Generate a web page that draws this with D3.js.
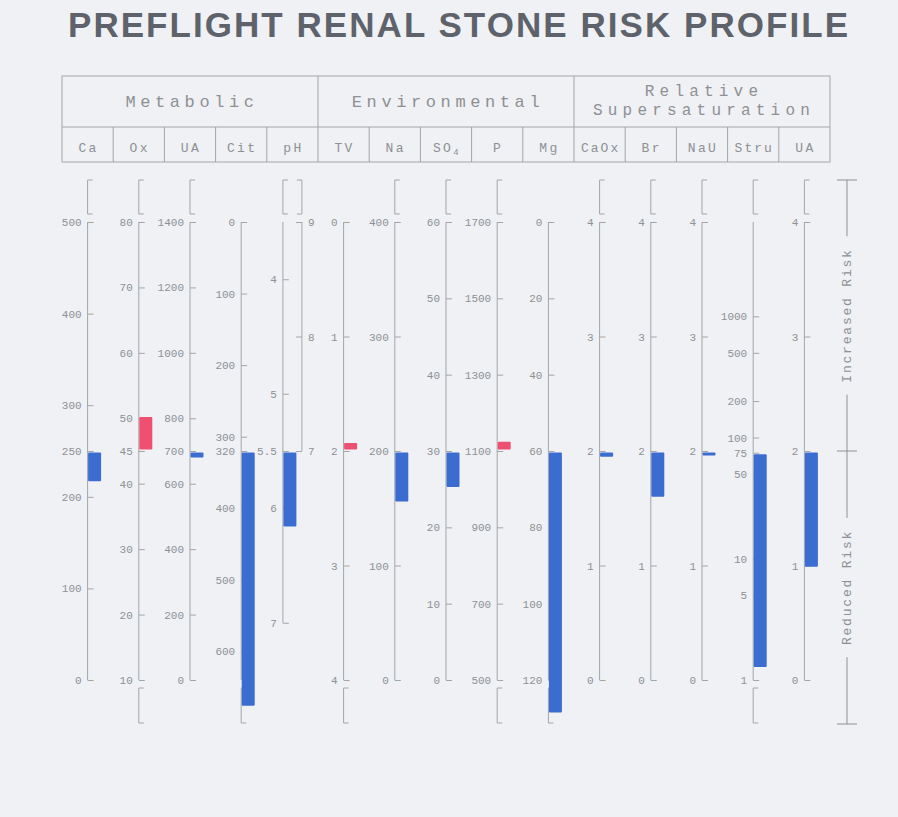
<!DOCTYPE html>
<html>
<head>
<meta charset="utf-8">
<script src="https://cdn.jsdelivr.net/npm/d3@7"></script>
<style>
  body { margin: 0; background: #eff1f5; }
  svg { display: block; }
  .tick text { font-family: "Liberation Mono", monospace; font-size: 11px; fill: #8e9094; }
  .tick line { stroke: #a3a5a9; }
</style>
</head>
<body>
<div id="chart"></div>
<script>
// DATA
const title = "PREFLIGHT RENAL STONE RISK PROFILE";
const groupLabels = [["Metabolic"], ["Environmental"], ["Relative", "Supersaturation"]];
const groupSizes = [5, 5, 5];
const columnLabels = ["Ca", "Ox", "UA", "Cit", "pH", "TV", "Na", "SO4", "P", "Mg", "CaOx", "Br", "NaU", "Stru", "UA"];

// value at top of axis / bottom of axis (some scales run downward)
const axisTop    = [500, 80, 1400, 0,   3.5, 0, 400, 60, 1700, 0,   4, 4, 4, 6000, 4];
const axisBottom = [0,   10, 0,    640, 7.5, 4, 0,   0,  500,  120, 0, 0, 0, 1,    0];
const lineEnd    = [0,   10, 0,    640, 7,   4, 0,   0,  500,  120, 0, 0, 0, 1,    0];
const midValues  = [250, 45, 700,  320, 5.5, 2, 200, 30, 1100, 60,  2, 2, 2, 75,   2];
const barValues  = [217, 50.2, 680, 676, 6.16, 1.93, 156, 25.3, 1124, 128.5, 1.95, 1.6, 1.96, 1.28, 0.99];
const logAxis    = [0, 0, 0, 0, 0, 0, 0, 0, 0, 0, 0, 0, 0, 1, 0];
const topBracket    = [1, 1, 1, 0, 1, 0, 1, 1, 1, 0, 1, 1, 1, 1, 1];
const bottomBracket = [0, 1, 0, 1, 0, 1, 0, 0, 1, 1, 0, 0, 0, 1, 0];
const tickValues = [
    [0, 100, 200, 250, 300, 400, 500],
    [10, 20, 30, 40, 45, 50, 60, 70, 80],
    [0, 200, 400, 600, 700, 800, 1000, 1200, 1400],
    [0, 100, 200, 300, 320, 400, 500, 600],
    [4, 5, 5.5, 6, 7],
    [0, 1, 2, 3, 4],
    [0, 100, 200, 300, 400],
    [0, 10, 20, 30, 40, 50, 60],
    [500, 700, 900, 1100, 1300, 1500, 1700],
    [0, 20, 40, 60, 80, 100, 120],
    [0, 1, 2, 3, 4],
    [0, 1, 2, 3, 4],
    [0, 1, 2, 3, 4],
    [1, 5, 10, 50, 75, 100, 200, 500, 1000],
    [0, 1, 2, 3, 4]
];
// second pH scale (right hand line, upper half only)
const phRightDomain = [9, 7];
const phRightTicks = [7, 8, 9];
const riskLabels = ["Increased Risk", "Reduced Risk"];

// LAYOUT
const width = 898, height = 817;
const yTop = 222, yBottom = 680;
const yMid = (yTop + yBottom) / 2;
const headTop = 76, headMid = 127, headBottom = 162;
const lineColor = "#a3a5a9";
const textColor = "#8e9094";
const blue = "#3b6dd0";
const red = "#ef5072";

const svg = d3.select("#chart").append("svg")
    .attr("width", width)
    .attr("height", height);

svg.append("rect").attr("width", width).attr("height", height).attr("fill", "#eff1f5");

// title
svg.append("text")
    .attr("x", 458).attr("y", 37)
    .attr("text-anchor", "middle")
    .attr("textLength", 780)
    .attr("lengthAdjust", "spacing")
    .style("font-family", "'Liberation Sans', Arial, sans-serif")
    .style("font-weight", "bold")
    .style("font-size", "35px")
    .attr("fill", "#5e636b")
    .text(title);

const x = d3.scaleBand()
    .domain(d3.range(columnLabels.length))
    .range([62, 830]);

// HEADER TABLE
const head = svg.append("g").attr("stroke", lineColor).attr("fill", "none");
head.append("rect")
    .attr("x", x.range()[0]).attr("y", headTop)
    .attr("width", x.range()[1] - x.range()[0]).attr("height", headBottom - headTop);
head.append("line")
    .attr("x1", x.range()[0]).attr("x2", x.range()[1])
    .attr("y1", headMid).attr("y2", headMid);

let start = 0;
const groupBounds = groupSizes.map(n => {
    const b = [start, start + n];
    start += n;
    return b;
});

// column dividers
head.selectAll(".coldiv")
    .data(d3.range(1, columnLabels.length))
    .join("line")
    .attr("x1", i => x(i)).attr("x2", i => x(i))
    .attr("y1", i => groupBounds.some(b => b[0] === i) ? headTop : headMid)
    .attr("y2", headBottom);

// group labels
groupBounds.forEach((b, gi) => {
    const cx = (x(b[0]) + x(b[1] - 1) + x.bandwidth()) / 2;
    const lines = groupLabels[gi];
    const t = svg.append("text")
        .attr("text-anchor", "middle")
        .style("font-family", "'Liberation Mono', monospace")
        .style("font-size", lines.length === 1 ? "17px" : "16px")
        .style("letter-spacing", lines.length === 1 ? "4.6px" : "5.2px")
        .attr("fill", textColor);
    lines.forEach((s, li) => {
        t.append("tspan")
            .attr("x", cx + 2)
            .attr("y", lines.length === 1 ? 107 : 96 + li * 19)
            .text(s);
    });
});

// column labels
columnLabels.forEach((c, i) => {
    const t = svg.append("text")
        .attr("x", x(i) + x.bandwidth() / 2 + 1)
        .attr("y", 152)
        .attr("text-anchor", "middle")
        .style("font-family", "'Liberation Mono', monospace")
        .style("font-size", "13px")
        .style("letter-spacing", c.length > 3 ? "2px" : "2.4px")
        .attr("fill", textColor);
    if (c === "SO4") {
        t.append("tspan").text("SO");
        t.append("tspan").attr("dy", 3).style("font-size", "9px").text("4");
    } else {
        t.text(c);
    }
});

// AXES
const bracket = (g, ax, y0, y1, dir) => {
    g.append("path")
        .attr("d", `M${ax + 5 * dir},${y0} H${ax} V${y1} H${ax + 5 * dir}`)
        .attr("fill", "none")
        .attr("stroke", lineColor);
};

columnLabels.forEach((c, i) => {
    const cx = x(i) + x.bandwidth() / 2;
    const ax = c === "pH" ? cx - 9.5 : cx;
    const y = (logAxis[i] ? d3.scaleLog() : d3.scaleLinear())
        .domain([axisTop[i], axisBottom[i]])
        .range([yTop, yBottom]);

    const g = svg.append("g");

    // axis line
    g.append("line")
        .attr("x1", ax).attr("x2", ax)
        .attr("y1", yTop).attr("y2", y(lineEnd[i]))
        .attr("stroke", lineColor);

    g.append("g")
        .attr("transform", `translate(${ax},0)`)
        .call(d3.axisLeft(y)
            .tickValues(tickValues[i])
            .tickFormat(d => String(d))
            .tickSize(-6)
            .tickPadding(6))
        .call(a => a.select(".domain").remove());

    if (topBracket[i]) bracket(g, ax, 180, 214, 1);
    if (bottomBracket[i]) bracket(g, ax, 688, 723, 1);

    // the pH column carries a second scale on its right line
    if (c === "pH") {
        const rx = cx + 9.5;
        const y2 = d3.scaleLinear().domain(phRightDomain).range([yTop, yMid]);
        g.append("line")
            .attr("x1", rx).attr("x2", rx)
            .attr("y1", yTop).attr("y2", yMid)
            .attr("stroke", lineColor);
        g.append("g")
            .attr("transform", `translate(${rx},0)`)
            .call(d3.axisRight(y2)
                .tickValues(phRightTicks)
                .tickFormat(d => String(d))
                .tickSize(-6)
                .tickPadding(6))
            .call(a => a.select(".domain").remove());
        bracket(g, rx, 180, 214, -1);
    }

    // result bar
    const yv = y(barValues[i]);
    const ym = y(midValues[i]);
    g.append("rect")
        .attr("x", ax + 0.5)
        .attr("y", Math.min(yv, ym) + (yv > ym ? 1.5 : 0))
        .attr("width", 13)
        .attr("height", Math.abs(yv - ym) - 1.5)
        .attr("rx", 1)
        .attr("fill", yv < ym ? red : blue);
});

// RISK INDICATOR
const rx = 847;
const riskG = svg.append("g").attr("stroke", "#8f9195");
[180, yMid, 724].forEach(v => {
    riskG.append("line")
        .attr("x1", rx - 10).attr("x2", rx + 10)
        .attr("y1", v).attr("y2", v);
});
[[180, yMid], [yMid, 724]].forEach(([a, b], k) => {
    const cy = (a + b) / 2;
    const t = svg.append("text")
        .attr("transform", `translate(${rx + 4},${cy}) rotate(-90)`)
        .attr("text-anchor", "middle")
        .style("font-family", "'Liberation Mono', monospace")
        .style("font-size", "13px")
        .style("letter-spacing", "1.8px")
        .attr("fill", textColor)
        .text(riskLabels[k]);
    const half = t.node().getComputedTextLength() / 2 + 12;
    riskG.append("line").attr("x1", rx).attr("x2", rx).attr("y1", a).attr("y2", cy - half);
    riskG.append("line").attr("x1", rx).attr("x2", rx).attr("y1", cy + half).attr("y2", b);
});
</script>
</body>
</html>
